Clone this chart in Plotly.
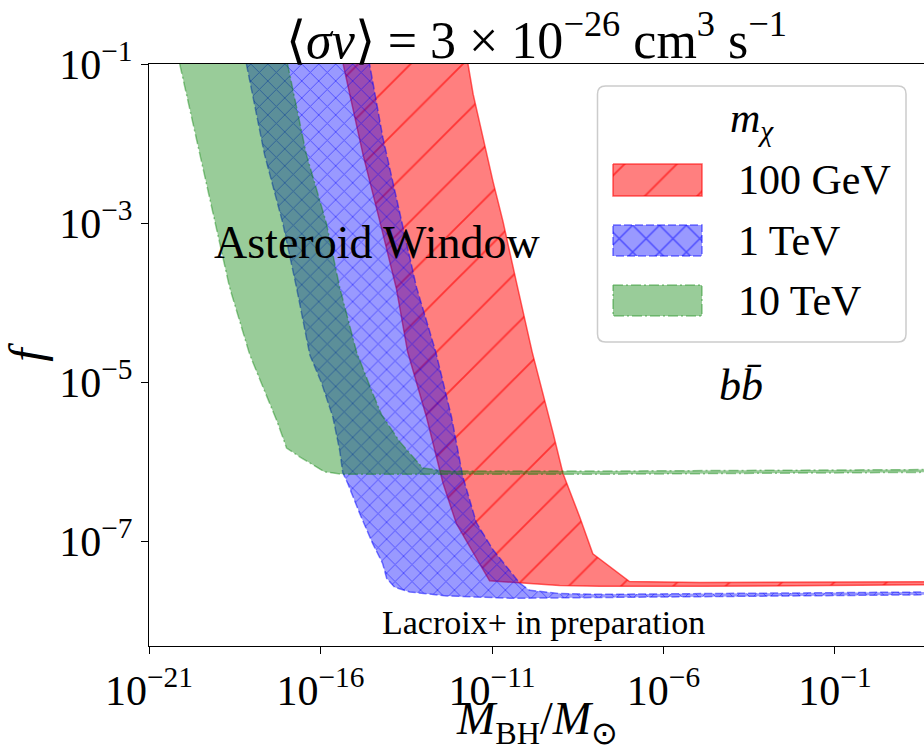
import plotly.graph_objects as go

# Band boundaries in log10(M_BH / M_sun) and log10(f).
# "lower" runs down the left edge and out along the floor,
# "upper" runs down the right edge and out along the top of the floor.

# m_chi = 100 GeV
red_lower_logM = [-15.34, -14.76, -14.27, -13.79, -13.46, -12.91, -12.43, -12.04, -11.65, -11.07,
                  -9.03, -7.86, -4.94, 2.0]
red_lower_logf = [-1.00, -2.14, -2.98, -3.82, -4.62, -5.44, -6.27, -6.78, -7.07, -7.50,
                  -7.56, -7.57, -7.57, -7.55]
red_upper_logM = [-11.70, -11.55, -11.26, -10.97, -10.68, -10.29, -9.83, -9.51, -9.22, -8.93,
                  -8.44, -8.06, -6.99, -4.94, -2.03, 2.0]
red_upper_logf = [-1.00, -1.38, -1.93, -2.48, -2.98, -3.74, -4.62, -5.14, -5.64, -6.15,
                  -6.70, -7.16, -7.51, -7.52, -7.52, -7.51]

# m_chi = 1 TeV
blue_lower_logM = [-18.16, -17.63, -17.10, -16.70, -16.31, -15.97, -15.64, -15.44, -15.35, -15.21,
                   -14.86, -14.48, -14.19, -14.07, -13.84, -13.40, -12.32, -10.40, -7.86, 2.0]
blue_lower_logf = [-1.00, -2.14, -3.00, -3.81, -4.66, -5.01, -5.44, -5.86, -6.14, -6.27,
                   -6.65, -7.03, -7.28, -7.47, -7.58, -7.64, -7.69, -7.72, -7.71, -7.675]
blue_upper_logM = [-14.57, -14.18, -13.64, -13.20, -12.64, -12.18, -11.85, -11.455, -10.97, -10.48,
                   -10.19, -9.90, -9.03, -7.86, 2.0]
blue_upper_logf = [-1.00, -1.93, -2.98, -3.81, -4.62, -5.44, -6.19, -6.77, -7.11, -7.37,
                   -7.53, -7.62, -7.66, -7.67, -7.64]

# m_chi = 10 TeV
green_lower_logM = [-20.105, -19.52, -19.08, -18.65, -18.06, -17.63, -17.28, -17.07, -16.99, -16.61,
                    -16.23, -15.88, -15.35, -7.86, 2.0]
green_lower_logf = [-1.00, -2.14, -3.00, -3.81, -4.66, -5.10, -5.48, -5.73, -5.83, -5.94,
                    -6.04, -6.13, -6.16, -6.16, -6.135]
green_upper_logM = [-16.96, -16.41, -15.83, -15.44, -14.95, -14.48, -14.22, -13.69, -13.02, -12.38,
                    -7.86, 2.0]
green_upper_logf = [-1.00, -2.14, -3.00, -3.81, -4.62, -5.14, -5.41, -5.75, -6.08, -6.12,
                    -6.12, -6.10]

series_labels = ["100 GeV", "1 TeV", "10 TeV"]

x_tick_exps = [-21, -16, -11, -6, -1]
y_tick_exps = [-1, -3, -5, -7]

FONT = "Liberation Serif"
BIG = 42

# fill, edge/hatch colour, edge dash, hatch shape and hatch tile size (plot, legend swatch)
styles = {
    "100 GeV": dict(fill="rgba(255,0,0,0.5)", edge="rgba(255,0,0,0.6)", dash="solid",
                    shape="/", size=37, legend_size=37, solidity=0.05),
    "1 TeV": dict(fill="rgba(0,0,255,0.4)", edge="rgba(0,0,255,0.5)", dash="8px,3px",
                  shape="x", size=12, legend_size=19, solidity=0.15),
    "10 TeV": dict(fill="rgba(0,128,0,0.4)", edge="rgba(0,128,0,0.4)", dash="10px,3px,2px,3px",
                   shape="", size=10, legend_size=10, solidity=0.0),
}


def pow10(vals):
    return [10 ** v for v in vals]


def pattern_for(st, size):
    if not st["shape"]:
        return {}
    return {"fillpattern": dict(shape=st["shape"], size=size, solidity=st["solidity"],
                                fgcolor=st["edge"], bgcolor=st["fill"], fillmode="replace")}


def band(lower_m, lower_f, upper_m, upper_f, label):
    st = styles[label]
    xs = pow10(lower_m) + pow10(upper_m[::-1])
    ys = pow10(lower_f) + pow10(upper_f[::-1])
    return go.Scatter(x=xs, y=ys, mode="lines", fill="toself", fillcolor=st["fill"],
                      line=dict(color=st["edge"], width=1.5, dash=st["dash"]),
                      name=label, hoverinfo="skip", **pattern_for(st, st["size"]))


fig = go.Figure()
fig.add_trace(band(red_lower_logM, red_lower_logf, red_upper_logM, red_upper_logf, "100 GeV"))
fig.add_trace(band(blue_lower_logM, blue_lower_logf, blue_upper_logM, blue_upper_logf, "1 TeV"))
fig.add_trace(band(green_lower_logM, green_lower_logf, green_upper_logM, green_upper_logf, "10 TeV"))

# --- hand-built legend and outer labels, laid out in pixel units ---
PX_L, PX_R, PX_T, PX_B = 149, 924, 64, 646
LEG_BOX = dict(x0=597.5, x1=906, y0=86, y1=342, r=8)
LEG_SWATCH_X = (613, 702)
LEG_ROWS_Y = [(164, 196), (225, 256), (285, 316)]
LEG_TEXT_X = 736
LEG_TITLE_Y = 121
XLABEL_POS = (537, 722)


def paper_xy(px, py):
    return (px - PX_L) / (PX_R - PX_L), (PX_B - py) / (PX_B - PX_T)


for label, (y0, y1) in zip(series_labels, LEG_ROWS_Y):
    st = styles[label]
    x0, x1 = LEG_SWATCH_X
    fig.add_trace(go.Scatter(x=[x0, x1, x1, x0, x0], y=[y0, y0, y1, y1, y0], xaxis="x2", yaxis="y2",
                             mode="lines", fill="toself", fillcolor=st["fill"],
                             line=dict(color=st["edge"], width=1.5, dash=st["dash"]),
                             hoverinfo="skip", showlegend=False,
                             **pattern_for(st, st["legend_size"])))
    fig.add_annotation(x=LEG_TEXT_X, y=(y0 + y1) / 2, xref="x2", yref="y2", text=label,
                       showarrow=False, xanchor="left", yanchor="middle",
                       font=dict(family=FONT, size=BIG, color="black"))

b = LEG_BOX
r = b["r"]
box_path = (f"M{b['x0']+r},{b['y0']} L{b['x1']-r},{b['y0']} Q{b['x1']},{b['y0']} {b['x1']},{b['y0']+r} "
            f"L{b['x1']},{b['y1']-r} Q{b['x1']},{b['y1']} {b['x1']-r},{b['y1']} "
            f"L{b['x0']+r},{b['y1']} Q{b['x0']},{b['y1']} {b['x0']},{b['y1']-r} "
            f"L{b['x0']},{b['y0']+r} Q{b['x0']},{b['y0']} {b['x0']+r},{b['y0']} Z")
fig.add_shape(type="path", path=box_path, xref="x2", yref="y2", layer="below",
              line=dict(color="#cccccc", width=1.5), fillcolor="rgba(255,255,255,0.8)")
fig.add_annotation(x=(b["x0"] + b["x1"]) / 2, y=LEG_TITLE_Y, xref="x2", yref="y2",
                   text="<i>m</i><sub><i>χ</i></sub>", showarrow=False,
                   font=dict(family=FONT, size=BIG, color="black"))

# x-axis label, placed below the tick labels
xl_x, xl_y = paper_xy(*XLABEL_POS)
fig.add_annotation(x=xl_x, y=xl_y, xref="paper", yref="paper", xanchor="center", yanchor="middle",
                   text="<i>M</i><sub>BH</sub>/<i>M</i><sub>⊙</sub>", showarrow=False,
                   font=dict(family=FONT, size=46, color="black"))

# --- in-plot text ---
fig.add_annotation(x=-14.36, y=-3.25, text="Asteroid Window", showarrow=False,
                   font=dict(family=FONT, size=46, color="black"))
fig.add_annotation(x=-3.75, y=-5.04, text="<i>bb̄</i>", showarrow=False,
                   font=dict(family=FONT, size=44, color="black"))
fig.add_annotation(x=-9.49, y=-8.02, text="Lacroix+ in preparation", showarrow=False,
                   font=dict(family=FONT, size=34, color="black"))

axis_common = dict(showline=True, linecolor="black", linewidth=1.3, ticks="outside", ticklen=7,
                   tickwidth=1.3, tickcolor="black", showgrid=False, zeroline=False,
                   tickfont=dict(family=FONT, size=BIG, color="black"), automargin=False)

fig.update_layout(
    width=924, height=749,
    margin=dict(l=PX_L, r=924 - PX_R, t=PX_T, b=749 - PX_B),
    plot_bgcolor="white", paper_bgcolor="white", showlegend=False,
    font=dict(family=FONT, color="black"),
    title=dict(text="⟨<i>σv</i>⟩ = 3 × 10<sup>−26</sup> cm<sup>3</sup> s<sup>−1</sup>",
               x=0.5, xref="paper", y=1, yref="paper", yanchor="bottom",
               pad=dict(b=6), font=dict(family=FONT, size=52, color="black")),
    xaxis=dict(type="log", range=[-21, 1.595], mirror=True,
               tickvals=[10 ** e for e in x_tick_exps],
               ticktext=[f"10<sup>{str(e).replace('-', '−')}</sup>" for e in x_tick_exps],
               **axis_common),
    yaxis=dict(type="log", range=[-8.32, -1], mirror=False,
               tickvals=[10 ** e for e in y_tick_exps],
               ticktext=[f"10<sup>{str(e).replace('-', '−')}</sup>" for e in y_tick_exps],
               title=dict(text="<i>f</i>", standoff=8,
                          font=dict(family=FONT, size=48, color="black")),
               **axis_common),
    xaxis2=dict(overlaying="x", range=[PX_L, PX_R], visible=False, fixedrange=True),
    yaxis2=dict(overlaying="y", range=[PX_B, PX_T], visible=False, fixedrange=True),
)

fig.write_html("out.html")
